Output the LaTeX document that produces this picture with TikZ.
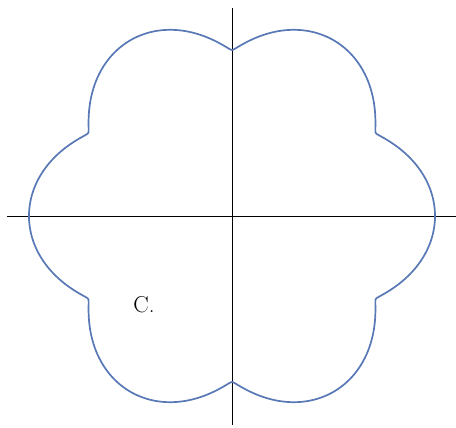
\documentclass[tikz,border=0pt]{standalone}
\begin{document}
\begin{tikzpicture}[x=1pt,y=1pt,
  axis/.style={black,line width=0.9pt},
  curve/.style={color={rgb,255:red,88;green,120;blue,182},line width=1.7pt,line join=round}]
\useasboundingbox (-232,-212) rectangle (224,216);
\coordinate (xl) at (-225,0);
\coordinate (xr) at (224,0);
\coordinate (yb) at (0,-209);
\coordinate (yt) at (0,208);
\draw[axis] (xl) -- (xr);
\draw[axis] (yb) -- (yt);
\draw[curve] plot[domain=0:360,samples=1441]
  ({(165+38*sqrt(cos(3*\x)*cos(3*\x)+0.0008))*cos(\x)},
   {(165+38*sqrt(cos(3*\x)*cos(3*\x)+0.0008))*sin(\x)}) -- cycle;
\node[font=\fontsize{23}{27}\selectfont,anchor=base,inner sep=0pt] (lab) at (-88,-97) {C.};
\end{tikzpicture}
\end{document}
